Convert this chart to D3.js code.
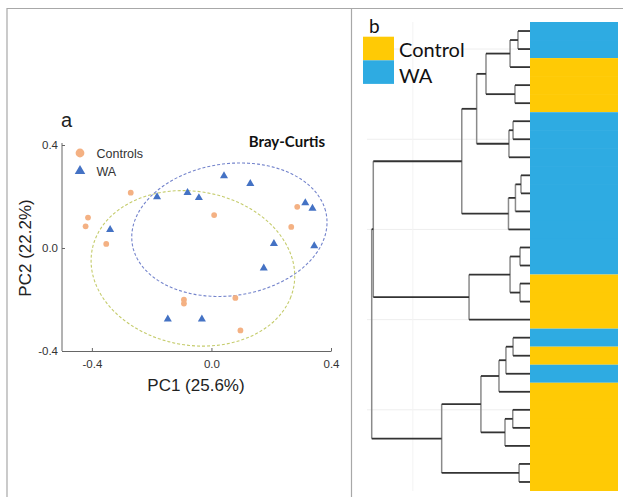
<!DOCTYPE html>
<html lang="en">
<head>
  <meta charset="UTF-8">
  <script src="https://cdnjs.cloudflare.com/ajax/libs/d3/7.8.5/d3.min.js"></script>
  <style>
    body { margin: 0; background: #fff; }
    text { font-family: "Liberation Sans", Arial, sans-serif; }
  </style>
</head>
<body>
  <script>
    // ---- panel a: PCoA (Bray-Curtis) ----
    const controlsPC1 = [-0.270, -0.413, -0.421, -0.352, 0.009, 0.287, 0.267, -0.092, -0.092, 0.080, 0.097];
    const controlsPC2 = [0.215, 0.118, 0.084, 0.016, 0.128, 0.160, 0.082, -0.201, -0.216, -0.194, -0.320];
    const waPC1 = [-0.339, -0.182, -0.080, -0.042, 0.042, 0.130, 0.314, 0.338, 0.344, 0.209, 0.175, -0.146, -0.032];
    const waPC2 = [0.071, 0.198, 0.215, 0.195, 0.280, 0.250, 0.175, 0.154, 0.008, 0.017, -0.078, -0.276, -0.276];
    // [centre PC1, centre PC2, semi-axis a, semi-axis b, angle in degrees]
    const ellipseControls = [-0.062, -0.079, 0.346, 0.296, -19.6];
    const ellipseWA = [0.060, 0.071, 0.330, 0.255, 12.8];
    const pcTicks = [-0.4, 0, 0.4];

    // ---- panel b: dendrogram ----
    const leafGroup = ["WA", "WA", "Control", "Control", "Control",
      "WA", "WA", "WA", "WA", "WA", "WA", "WA", "WA", "WA",
      "Control", "Control", "Control", "WA", "Control", "WA",
      "Control", "Control", "Control", "Control", "Control", "Control"];
    // [child, child, height]; numbers are leaves, "nK" is merge row K
    const merges = [
      [0, 1, 0.076],
      ["n0", 2, 0.126],
      [3, 4, 0.095],
      ["n1", "n2", 0.278],
      [5, 6, 0.107],
      ["n4", 7, 0.133],
      ["n3", "n5", 0.337],
      [8, 9, 0.057],
      ["n7", 10, 0.092],
      ["n8", 11, 0.136],
      ["n6", "n9", 0.431],
      [12, 13, 0.063],
      [14, 15, 0.063],
      ["n11", "n12", 0.126],
      ["n13", 16, 0.385],
      ["n10", "n14", 0.990],
      [17, 18, 0.107],
      ["n16", 19, 0.152],
      ["n17", 20, 0.196],
      [21, 22, 0.109],
      ["n19", 23, 0.158],
      ["n18", "n20", 0.310],
      [24, 25, 0.069],
      ["n21", "n22", 0.558],
      ["n15", "n23", 1.000]
    ];
    const groupNames = ["Control", "WA"];

    const W = 623, H = 497;
    const orange = "#f4b183", blue = "#4472c4";
    const yellow = "#ffca05", cyan = "#2eabe2";

    const svg = d3.select("body").append("svg")
      .attr("width", W).attr("height", H);

    // frame
    svg.append("path")
      .attr("d", "M7,497V8.5H623M351.5,8.5V497")
      .attr("fill", "none").attr("stroke", "#a8a8a8").attr("stroke-width", 1.2);

    // ===== panel a =====
    const x = d3.scaleLinear().domain([-0.5, 0.4]).range([62, 331]);
    const y = d3.scaleLinear().domain([-0.4, 0.4]).range([351, 145]);

    const xAxis = d3.axisBottom(x).tickValues(pcTicks)
      .tickFormat(d => d.toFixed(1)).tickSizeInner(-3).tickSizeOuter(0).tickPadding(9);
    const yAxis = d3.axisLeft(y).tickValues(pcTicks)
      .tickFormat(d => d.toFixed(1)).tickSizeInner(-3).tickSizeOuter(0).tickPadding(4);

    const gx = svg.append("g").attr("transform", "translate(0,351)").call(xAxis);
    const gy = svg.append("g").attr("transform", "translate(62,0)").call(yAxis);
    [gx, gy].forEach(g => {
      g.select(".domain").attr("stroke", "#666");
      g.selectAll(".tick line").attr("stroke", "#666");
      g.selectAll("text").attr("fill", "#333").style("font-size", "11.5px")
        .style("font-family", "'Liberation Sans', Arial, sans-serif");
    });
    gy.select(".domain").attr("d", "M0," + (y(0.4) - 2) + "V351");

    svg.append("text").attr("x", 196).attr("y", 391)
      .attr("text-anchor", "middle").attr("fill", "#222")
      .style("font-size", "17px").text("PC1 (25.6%)");
    svg.append("text").attr("transform", "translate(31,248) rotate(-90)")
      .attr("text-anchor", "middle").attr("fill", "#222")
      .style("font-size", "17px").text("PC2 (22.2%)");

    svg.append("text").attr("x", 61).attr("y", 127)
      .attr("fill", "#222").style("font-size", "20px").text("a");
    svg.append("text").attr("x", 325).attr("y", 147).attr("text-anchor", "end")
      .attr("fill", "#111").style("font-family", "Lato, sans-serif")
      .style("font-weight", "bold").style("font-size", "15px").text("Bray-Curtis");

    // ellipses
    const ellipseLine = d3.line().x(p => x(p[0])).y(p => y(p[1])).curve(d3.curveLinearClosed);
    function ellipsePoints(e) {
      const [cx, cy, a, b, deg] = e;
      const r = deg * Math.PI / 180;
      return d3.range(0, 360, 3).map(t => {
        const s = t * Math.PI / 180;
        const u = a * Math.cos(s), v = b * Math.sin(s);
        return [cx + u * Math.cos(r) - v * Math.sin(r), cy + u * Math.sin(r) + v * Math.cos(r)];
      });
    }
    svg.append("path").attr("d", ellipseLine(ellipsePoints(ellipseControls)))
      .attr("fill", "none").attr("stroke", "#c5cc6c").attr("stroke-width", 1.1)
      .attr("stroke-dasharray", "3,2");
    svg.append("path").attr("d", ellipseLine(ellipsePoints(ellipseWA)))
      .attr("fill", "none").attr("stroke", "#7484cc").attr("stroke-width", 1.1)
      .attr("stroke-dasharray", "3,2");

    // points
    svg.selectAll(".ctrl").data(d3.zip(controlsPC1, controlsPC2)).enter()
      .append("circle").attr("class", "ctrl")
      .attr("cx", d => x(d[0])).attr("cy", d => y(d[1])).attr("r", 2.9)
      .attr("fill", orange);
    const tri = d3.symbol(d3.symbolTriangle, 28);
    svg.selectAll(".wa").data(d3.zip(waPC1, waPC2)).enter()
      .append("path").attr("class", "wa")
      .attr("transform", d => "translate(" + x(d[0]) + "," + y(d[1]) + ")")
      .attr("d", tri).attr("fill", blue);

    // legend a
    svg.append("circle").attr("cx", 80).attr("cy", 153).attr("r", 4.4).attr("fill", orange);
    svg.append("path").attr("transform", "translate(80,171)")
      .attr("d", d3.symbol(d3.symbolTriangle, 48)).attr("fill", blue);
    svg.append("text").attr("x", 96.5).attr("y", 157.5).attr("fill", "#333")
      .style("font-size", "12.5px").text("Controls");
    svg.append("text").attr("x", 96.5).attr("y", 175.5).attr("fill", "#333")
      .style("font-size", "12.5px").text("WA");

    // ===== panel b =====
    const leafY = d3.scaleBand().domain(d3.range(leafGroup.length)).range([22, 491]);
    const hX = d3.scaleLinear().domain([0, 1]).range([530, 371.7]);
    const fill = d3.scaleOrdinal().domain(groupNames).range([yellow, cyan]);

    // faint grid every five leaves
    svg.selectAll(".grid").data([1, 6, 11, 16, 21]).enter()
      .append("line").attr("class", "grid")
      .attr("x1", 367).attr("x2", 530)
      .attr("y1", d => leafY(d) + leafY.bandwidth() / 2)
      .attr("y2", d => leafY(d) + leafY.bandwidth() / 2)
      .attr("stroke", "#eeeeee").attr("stroke-width", 1);
    svg.append("line").attr("x1", hX(0.74)).attr("x2", hX(0.74))
      .attr("y1", 22).attr("y2", 491).attr("stroke", "#f3f3f3");

    // node positions
    const nodeY = {}, nodeH = {};
    leafGroup.forEach((g, i) => { nodeY[i] = leafY(i) + leafY.bandwidth() / 2; nodeH[i] = 0; });
    merges.forEach((m, k) => {
      nodeY["n" + k] = (nodeY[m[0]] + nodeY[m[1]]) / 2;
      nodeH["n" + k] = m[2];
    });

    const dend = svg.append("g");
    merges.forEach(m => {
      const xm = hX(m[2]);
      dend.append("line").attr("x1", xm).attr("x2", xm)
        .attr("y1", nodeY[m[0]]).attr("y2", nodeY[m[1]])
        .attr("stroke", "#8a8a8a").attr("stroke-width", 1.5);
      [m[0], m[1]].forEach(c => {
        dend.append("line").attr("x1", xm).attr("x2", hX(nodeH[c]))
          .attr("y1", nodeY[c]).attr("y2", nodeY[c])
          .attr("stroke", "#333").attr("stroke-width", 1.8);
      });
    });

    // colour bar
    svg.selectAll(".cell").data(leafGroup).enter()
      .append("rect").attr("class", "cell")
      .attr("x", 530).attr("width", 88)
      .attr("y", (d, i) => leafY(i))
      .attr("height", (d, i) => leafY.bandwidth() + (i < leafGroup.length - 1 && leafGroup[i + 1] === d ? 0.6 : 0))
      .attr("fill", d => fill(d));

    // legend b
    svg.append("text").attr("x", 369).attr("y", 33).attr("fill", "#111")
      .style("font-family", "Lato, sans-serif").style("font-size", "19px").text("b");
    groupNames.forEach((g, i) => {
      svg.append("rect").attr("x", 363).attr("y", 36.7 + i * 23.6)
        .attr("width", 31).attr("height", 23.6).attr("fill", fill(g));
      svg.append("text").attr("x", 399).attr("y", 57.3 + i * 26)
        .attr("fill", "#111").style("font-family", "Lato, sans-serif")
        .style("font-size", "20px").text(g);
    });
  </script>
</body>
</html>
